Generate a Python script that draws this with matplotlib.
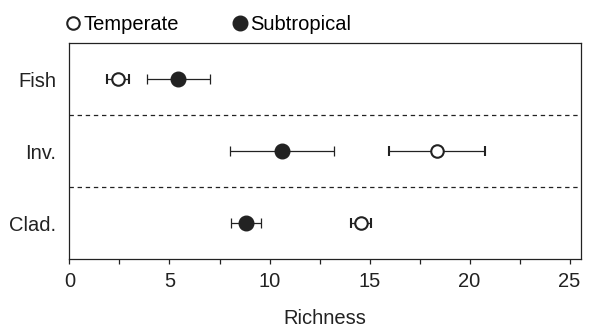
import matplotlib
matplotlib.use("Agg")
import matplotlib.pyplot as plt
from matplotlib.ticker import MultipleLocator
from matplotlib.lines import Line2D

plt.rcParams['font.family'] = ['Liberation Sans', 'DejaVu Sans']

groups = ["Fish", "Inv.", "Clad."]
temperate_mean = [2.45, 18.35, 14.57]
temperate_err = [0.55, 2.4, 0.5]
subtropical_mean = [5.45, 10.6, 8.8]
subtropical_err = [1.55, 2.6, 0.75]
xticks = [0, 5, 10, 15, 20, 25]

ink = '#222222'
fs = 14.5
fig = plt.figure(figsize=(6.08, 3.27), dpi=100)
ax = fig.add_axes([0.1143, 0.208, 0.9548 - 0.1143, 0.867 - 0.208])

ypos = [0.5, 1.5, 2.5]

ax.errorbar(temperate_mean, ypos, xerr=temperate_err, fmt='o', color=ink,
            mfc='white', mec=ink, mew=1.5, ms=9, capsize=3.8,
            elinewidth=0.9, capthick=0.9, zorder=3)
ax.errorbar(subtropical_mean, ypos, xerr=subtropical_err, fmt='o', color=ink,
            mfc=ink, mec=ink, ms=10.5, capsize=3.8,
            elinewidth=0.9, capthick=0.9, zorder=3)

for y in [1, 2]:
    ax.axhline(y, color=ink, lw=0.9, ls=(0, (3.5, 3)))

ax.set_ylim(3, 0)
ax.set_yticks(ypos)
ax.set_yticklabels(groups)
ax.set_xlim(0, 25.55)
ax.set_xticks(xticks)
ax.xaxis.set_minor_locator(MultipleLocator(2.5))
ax.tick_params(axis='y', length=0, pad=9.5, labelsize=fs, colors=ink)
ax.tick_params(axis='x', which='both', direction='out', length=3.5, width=0.9,
               pad=6, labelsize=fs, colors=ink)
for s in ax.spines.values():
    s.set_linewidth(0.9)
    s.set_color(ink)

ax.set_xlabel("Richness", fontsize=fs, color=ink, labelpad=13)

handles = [
    Line2D([], [], ls='none', marker='o', mfc='white', mec=ink, mew=1.5, ms=9),
    Line2D([], [], ls='none', marker='o', mfc=ink, mec=ink, ms=10.5),
]
ax.legend(handles, ["Temperate", "Subtropical"], loc='center left',
          bbox_to_anchor=(-0.0043, 1.086), ncol=2, frameon=False, fontsize=fs,
          handlelength=0.6, handletextpad=0.2, columnspacing=2.75,
          borderaxespad=0, borderpad=0)

fig.savefig("out.png", dpi=100)
